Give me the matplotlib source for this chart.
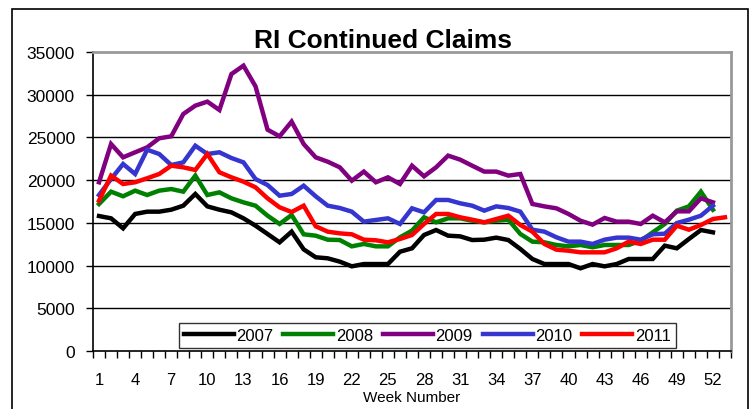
import matplotlib
matplotlib.use('Agg')
import matplotlib.pyplot as plt
from matplotlib.patches import Rectangle
import numpy as np

plt.rcParams['font.family'] = ['Liberation Sans', 'DejaVu Sans']

weeks_52 = list(range(1, 53))
weeks_53 = list(range(1, 54))

# values
claims_2007 = [15800, 15530, 14360, 16040, 16310, 16310, 16540, 17010, 18380, 16930,
               16540, 16230, 15530, 14670, 13700, 12720, 13970, 11900, 10970, 10850,
               10460, 9910, 10180, 10180, 10180, 11620, 12020, 13580, 14160, 13500,
               13420, 12990, 13030, 13270, 12990, 11940, 10770, 10180, 10180, 10180,
               9680, 10180, 9910, 10180, 10770, 10770, 10770, 12330, 12020, 13110,
               14160, 13890]
claims_2008 = [17210, 18650, 18110, 18770, 18260, 18770, 18960, 18650, 20530, 18260,
               18570, 17870, 17400, 17010, 15840, 14870, 15920, 13660, 13500, 13030,
               12990, 12250, 12530, 12250, 12250, 13310, 14090, 15650, 15060, 15530,
               15530, 15250, 15060, 15250, 15370, 13700, 12800, 12720, 12410, 12250,
               12410, 12140, 12410, 12410, 12410, 12910, 13890, 14870, 16430, 16930,
               18650, 16540]
claims_2009 = [19750, 24230, 22670, 23260, 23840, 24900, 25130, 27740, 28720, 29190,
               28210, 32420, 33400, 30980, 25910, 25130, 26850, 24230, 22670, 22160,
               21500, 19940, 21000, 19750, 20330, 19550, 21690, 20450, 21500, 22870,
               22400, 21690, 21000, 21000, 20530, 20720, 17210, 16930, 16700, 16040,
               15250, 14790, 15570, 15140, 15140, 14870, 15840, 15060, 16350, 16350,
               17870, 17400]
claims_2010 = [18260, 20130, 21890, 20720, 23560, 23060, 21770, 22080, 24030, 23060,
               23260, 22590, 22080, 20130, 19430, 18180, 18380, 19350, 18110, 17010,
               16740, 16310, 15140, 15340, 15530, 14870, 16700, 16230, 17680, 17680,
               17290, 17010, 16430, 16930, 16740, 16310, 14200, 13970, 13310, 12800,
               12800, 12530, 13030, 13270, 13270, 13030, 13660, 13730, 14980, 15370,
               15840, 17010]
claims_2011 = [17600, 20530, 19550, 19750, 20220, 20720, 21690, 21500, 21190, 23060,
               20920, 20330, 19820, 19160, 17870, 16820, 16270, 17010, 14600, 13970,
               13770, 13660, 13030, 12960, 12720, 13110, 13580, 14870, 16040, 16040,
               15650, 15370, 15060, 15450, 15840, 14750, 13970, 12530, 11860, 11740,
               11550, 11550, 11550, 12020, 12800, 12530, 13030, 13030, 14670, 14200,
               14750, 15450, 15650]

series = [
    ('2007', weeks_52, claims_2007, 'black'),
    ('2008', weeks_52, claims_2008, '#008000'),
    ('2009', weeks_52, claims_2009, '#800080'),
    ('2010', weeks_52, claims_2010, '#3535D0'),
    ('2011', weeks_53, claims_2011, '#FF0000'),
]

fig = plt.figure(figsize=(7.54, 4.10), dpi=100)
ax = fig.add_axes([93 / 754, 1 - 352 / 410, 638 / 754, 299 / 410])

for name, w, vals, col in series:
    ax.plot(w, vals, color=col, lw=3.2, label=name, solid_joinstyle='miter', zorder=3)

ax.set_xlim(0.5, 53.5)
ax.set_ylim(0, 35000)
ax.set_yticks(np.arange(0, 35001, 5000))
ax.tick_params(axis='y', direction='out', length=5, width=1, pad=8, labelsize=12.5)
for yv in range(5000, 35000, 5000):
    ax.axhline(yv, color='black', lw=1, zorder=1)

# category ticks between weeks, labels every third week
ax.set_xticks(np.arange(0.5, 54, 1))
ax.set_xticklabels([])
ax.set_xticks(list(range(1, 54, 3)), minor=True)
ax.set_xticklabels([str(v) for v in range(1, 54, 3)], minor=True)
ax.tick_params(axis='x', which='major', direction='out', length=5, width=1)
ax.tick_params(axis='x', which='minor', length=0, pad=15, labelsize=12)
ax.set_xlabel('Week Number', fontsize=11, labelpad=2)

for s in ['top', 'right']:
    ax.spines[s].set_color('#999999')
    ax.spines[s].set_linewidth(2)
for s in ['left', 'bottom']:
    ax.spines[s].set_color('black')
    ax.spines[s].set_linewidth(1.2)

leg = ax.legend(loc='center', bbox_to_anchor=(0.524, 0.052), ncol=5, fontsize=12,
                frameon=True, fancybox=False, edgecolor='black', handlelength=3.0,
                handletextpad=0.15, columnspacing=0.6, borderpad=0.3)
leg.get_frame().set_linewidth(1)
leg.set_zorder(5)

fig.text(383.5 / 754, 1 - 48 / 410, 'RI Continued Claims', ha='center', va='baseline',
         fontsize=19, fontweight='bold')

fig.patches.append(Rectangle((12 / 754, -0.05), 736 / 754, 1.05 - 10 / 410,
                             transform=fig.transFigure, fill=False, edgecolor='black',
                             lw=1.2))

fig.savefig('out.png', dpi=100)
